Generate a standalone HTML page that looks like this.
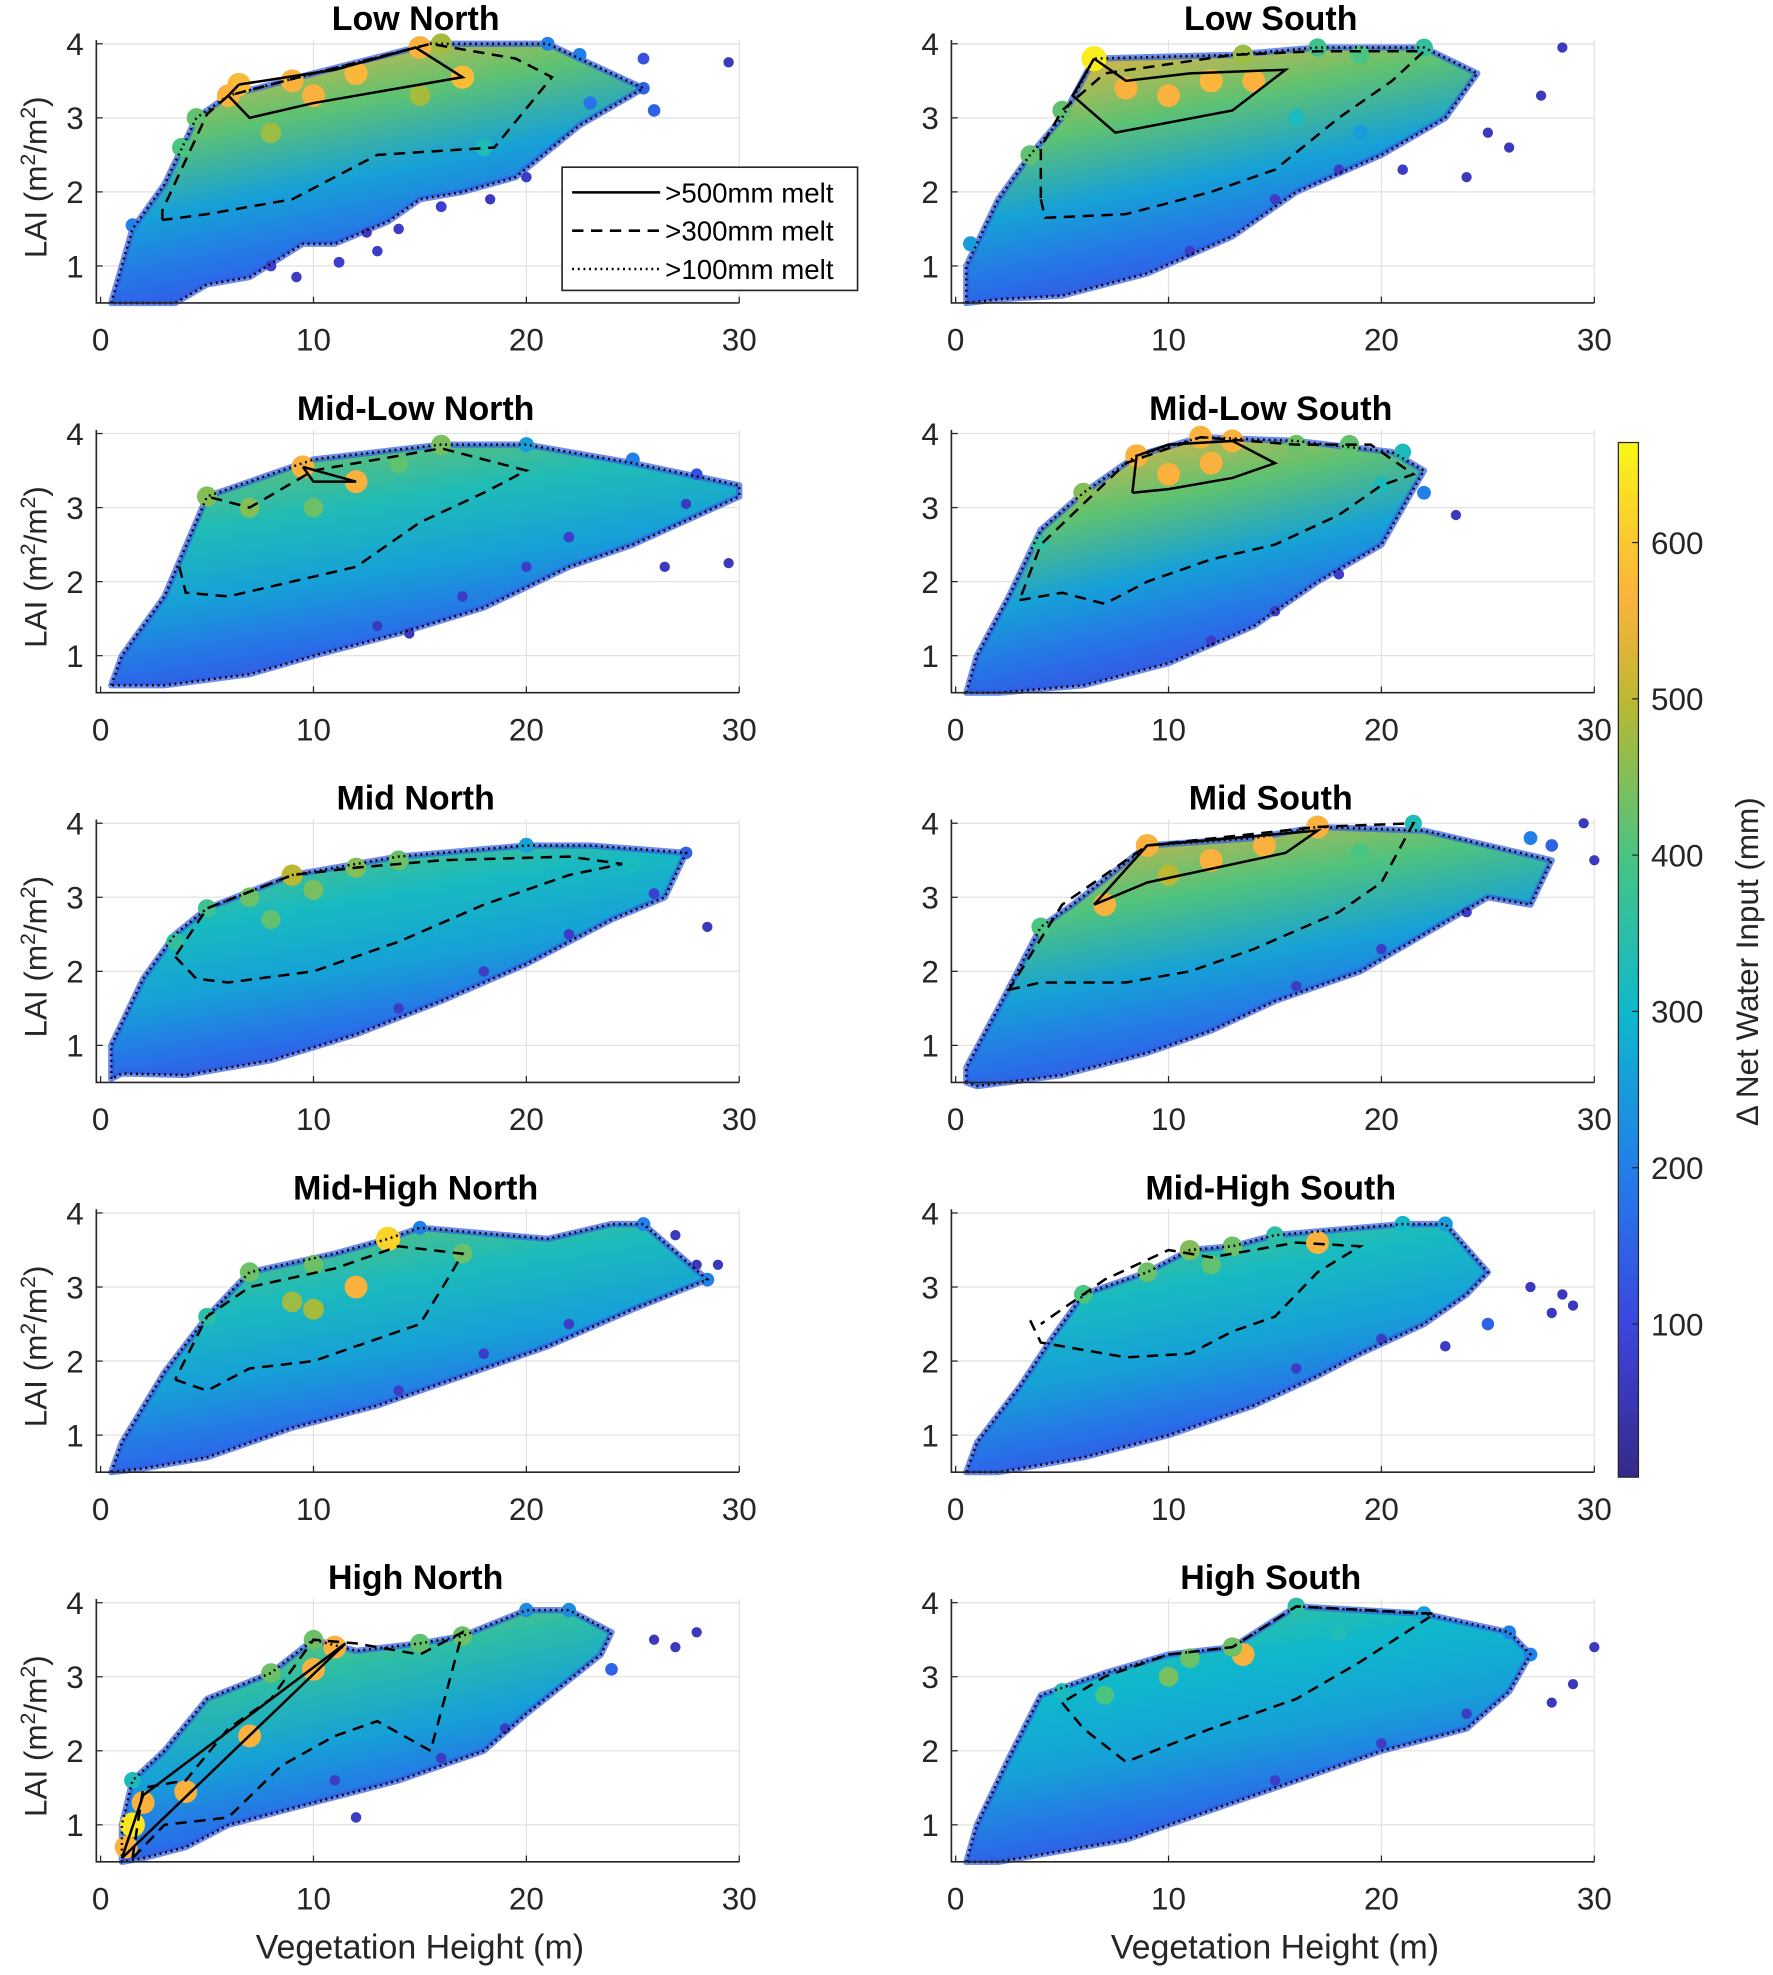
<!DOCTYPE html>
<html><head><meta charset="utf-8"><style>
html,body{margin:0;padding:0;background:#fff;}
svg{display:block;font-family:"Liberation Sans",Arial,sans-serif;}
</style></head><body>
<svg id="fig" width="1773" height="1975" viewBox="0 0 1410 1571" preserveAspectRatio="none" xmlns="http://www.w3.org/2000/svg">
<defs id="defs"></defs>
</svg>
<script>
const panelTitles = ["Low North","Low South","Mid-Low North","Mid-Low South","Mid North","Mid South","Mid-High North","Mid-High South","High North","High South"];
const topMelt = [560,560,440,560,420,540,430,420,470,400];
const xTicks = [0,10,20,30];
const yTicks = [1,2,3,4];
const cbTicks = [100,200,300,400,500,600];
const cbRange = [2,664];

const hull100 = [
 [[0.5,0.5],[1.5,1.5],[3,2.1],[4.5,3.0],[6,3.3],[10,3.6],[15.5,4.0],[21,4.0],[25.5,3.4],[22.5,2.9],[19.5,2.2],[17,2.0],[15,1.9],[13.5,1.6],[11,1.3],[9.5,1.3],[7,0.85],[5,0.75],[3.5,0.5]],
 [[0.5,0.5],[0.5,1.0],[2,1.9],[3.5,2.5],[5,3.0],[6.5,3.8],[13,3.85],[17,3.95],[22,3.95],[24.5,3.6],[23,3.0],[20,2.5],[16,2.0],[13,1.4],[9,0.9],[5,0.6],[2,0.55]],
 [[0.5,0.6],[1,1.0],[3,1.8],[5,3.15],[10,3.65],[16,3.85],[20,3.85],[25,3.6],[30,3.3],[30,3.15],[25,2.5],[22,2.2],[18,1.65],[14,1.3],[10,1.0],[7,0.75],[3,0.6]],
 [[0.5,0.5],[1,1.0],[2.5,1.8],[4,2.7],[6,3.2],[8.5,3.7],[11.5,3.95],[16,3.9],[20.5,3.75],[22,3.5],[21,3.0],[20,2.5],[17,2.0],[14,1.4],[10,0.9],[6,0.6],[2,0.5]],
 [[0.5,0.55],[0.5,1.0],[2,1.9],[3.5,2.5],[5,2.85],[9,3.3],[14,3.55],[20,3.7],[23,3.7],[27.5,3.6],[26.5,3.0],[24,2.7],[20,2.1],[16,1.6],[12,1.15],[8,0.8],[4,0.6],[1,0.62]],
 [[0.5,0.5],[0.5,0.7],[2,1.5],[4,2.6],[5.5,2.9],[9,3.7],[14,3.8],[17,3.95],[22,3.9],[28,3.5],[27,2.9],[25,3.0],[22,2.5],[19,2.0],[15,1.6],[12,1.2],[9,0.9],[5,0.6],[1,0.45]],
 [[0.5,0.5],[1,0.9],[3,1.85],[5,2.6],[7,3.2],[11,3.45],[13.5,3.65],[15,3.8],[21,3.65],[24,3.85],[25.5,3.85],[28.5,3.1],[25,2.7],[21,2.2],[17,1.8],[13,1.4],[9,1.1],[5,0.7],[2,0.55]],
 [[0.5,0.5],[1,0.9],[3,1.65],[4.5,2.3],[6,2.9],[9,3.2],[11,3.5],[13,3.55],[15,3.7],[19,3.8],[21,3.85],[23,3.85],[25,3.2],[24,2.9],[22,2.5],[19,2.1],[17,1.8],[14,1.4],[10,1.0],[6,0.7],[2,0.5]],
 [[1,0.5],[1,1.0],[1.5,1.6],[3,2.0],[5,2.7],[8,3.05],[10,3.5],[12,3.35],[15,3.45],[17,3.55],[20,3.9],[22,3.9],[24,3.6],[23.5,3.3],[20,2.5],[18,2.0],[14,1.6],[10,1.3],[6,1.0],[4,0.7],[2,0.55]],
 [[0.5,0.5],[1,1.0],[2.5,1.9],[4,2.75],[7,3.05],[10,3.3],[13,3.4],[16,3.95],[22,3.85],[26,3.6],[27,3.3],[26,2.8],[24,2.3],[20,2.0],[16,1.6],[12,1.2],[8,0.8],[4,0.6],[2,0.5]]
];
const hull300 = [
 [[2.9,1.62],[2.9,1.75],[5,3.05],[6,3.3],[10,3.6],[15.5,4.0],[19.5,3.8],[21.2,3.55],[18.5,2.6],[13,2.5],[9,1.9],[5,1.7],[2.9,1.62]],
 [[4,1.9],[4.2,1.65],[8,1.7],[12,2.0],[15,2.3],[18,3.0],[20.5,3.5],[22,3.9],[17,3.9],[13,3.85],[7,3.6],[5,3.1],[4,2.6],[4,1.9]],
 [[3.7,2.2],[4,1.85],[6,1.8],[9,2.0],[12,2.2],[15,2.8],[18,3.2],[20,3.5],[16,3.8],[10,3.5],[7,3.0],[5,3.15]],
 [[3,1.75],[5,1.85],[7,1.7],[9,2.0],[12,2.3],[15,2.5],[18,2.9],[20,3.3],[21.5,3.45],[19.5,3.85],[16,3.85],[11.5,3.95],[8,3.6],[4,2.5],[3,1.75]],
 [[3.5,2.2],[4.5,1.9],[6,1.85],[10,2.0],[14,2.4],[18,2.9],[22,3.3],[24.5,3.45],[22,3.55],[16,3.5],[12,3.4],[9,3.3],[5,2.85],[3.5,2.2]],
 [[2.5,1.75],[4,1.85],[8,1.85],[11,2.0],[14,2.3],[18,2.8],[20,3.2],[21.5,4.0],[17,3.95],[9,3.7],[5,2.9],[2.5,1.75]],
 [[3.5,1.75],[5,1.6],[7,1.9],[10,2.0],[13,2.3],[15,2.5],[16.5,3.2],[17,3.45],[14,3.55],[11,3.25],[7,3.0],[5,2.6],[3.5,1.75]],
 [[3.5,2.55],[4,2.25],[8,2.05],[11,2.1],[13,2.4],[15,2.6],[17,3.2],[19,3.55],[16,3.6],[12,3.4],[10,3.5],[7,3.1],[4,2.5]],
 [[1.5,0.55],[2,1.5],[4,1.6],[6,2.3],[8,2.7],[10,3.5],[12,3.45],[15,3.3],[17,3.6],[15.5,2.0],[13,2.4],[11,2.2],[8.5,1.8],[6,1.1],[3,1.0],[1.5,0.55]],
 [[5,2.65],[6,2.3],[8,1.85],[12,2.3],[16,2.7],[19,3.2],[22.5,3.85],[16,3.95],[13,3.4],[10,3.3],[7,3.0],[5,2.65]]
];
const hull500 = [
 [[6.5,3.45],[11,3.65],[14.8,3.95],[17,3.55],[14,3.4],[10,3.2],[7,3.0],[6,3.3],[6.5,3.45]],
 [[6.5,3.8],[8,3.5],[11,3.6],[15.5,3.65],[13,3.1],[7.5,2.8],[5.5,3.3],[6.5,3.8]],
 [[9.5,3.55],[10,3.35],[12,3.35],[9.5,3.55]],
 [[8.3,3.2],[8.5,3.7],[10,3.85],[13,3.9],[15,3.6],[13,3.4],[10,3.25],[8.3,3.2]],
 [],
 [[6.5,2.9],[9,3.7],[17,3.9],[15.5,3.6],[9,3.2],[6.5,2.9]],
 [],
 [],
 [[1,0.55],[2,1.4],[11.5,3.45],[1,0.55]],
 []
];
const pts = [
 [[29.5,3.75,60],[25.5,3.8,120],[26,3.1,150],[25.5,3.4,150],[22.5,3.85,200],[21,4.0,200],[23,3.2,180],[16,4.0,480],[15,3.95,560],[17,3.55,580],[6.5,3.45,580],[6,3.3,560],[4.5,3.0,420],[3.8,2.6,400],[12,3.6,570],[9,3.5,560],[10,3.3,560],[1.5,1.55,200],[9.2,0.85,70],[11.2,1.05,80],[12.5,1.45,60],[18.3,1.9,60],[20,2.2,70],[15,3.3,480],[8,2.8,470],[18,2.6,330],[14,1.5,70],[16,1.8,80],[13,1.2,70],[8,1.0,80]],
 [[28.5,3.95,60],[27.5,3.3,60],[25,2.8,60],[26,2.6,60],[24,2.2,60],[21,2.3,70],[6.5,3.8,650],[13.5,3.85,470],[17,3.95,380],[19,3.85,400],[22,3.95,360],[10,3.3,560],[12,3.5,570],[8,3.4,560],[14,3.5,560],[5,3.1,420],[0.7,1.3,250],[3.5,2.5,420],[16,3.0,320],[19,2.8,250],[15,1.9,70],[18,2.3,70],[11,1.2,70]],
 [[29.5,2.25,60],[26.5,2.2,60],[27.5,3.05,60],[28,3.45,120],[25,3.65,200],[22,2.6,80],[5,3.15,450],[9.5,3.55,560],[12,3.35,560],[16,3.85,440],[20,3.85,250],[14,3.6,420],[7,3.0,450],[10,3.0,430],[14.5,1.3,60],[13,1.4,60],[17,1.8,70],[20,2.2,70]],
 [[23.5,2.9,60],[8.5,3.7,560],[11.5,3.95,560],[13,3.9,560],[16,3.85,430],[18.5,3.85,420],[21,3.75,320],[10,3.45,560],[12,3.6,560],[6,3.2,450],[4,2.5,360],[20,3.3,320],[22,3.2,200],[15,1.6,70],[18,2.1,70],[12,1.2,70]],
 [[28.5,2.6,60],[26,3.05,80],[27.5,3.6,150],[9,3.3,500],[12,3.4,450],[14,3.5,430],[20,3.7,260],[25,3.45,320],[5,2.85,380],[3.5,2.4,360],[7,3.0,430],[10,3.1,440],[8,2.7,420],[22,2.5,70],[18,2.0,70],[14,1.5,70]],
 [[30,3.5,60],[29.5,4.0,60],[28,3.7,150],[27,3.8,200],[17,3.95,560],[9,3.7,560],[12,3.5,560],[14.5,3.7,560],[7,2.9,560],[4,2.6,400],[21.5,4.0,330],[19,3.6,400],[10,3.3,500],[24,2.8,70],[20,2.3,70],[16,1.8,70]],
 [[27,3.7,60],[28,3.3,60],[29,3.3,60],[28.5,3.1,200],[25.5,3.85,200],[15,3.8,200],[13.5,3.65,620],[12,3.0,560],[7,3.2,430],[10,3.3,430],[17,3.45,430],[5,2.6,350],[10,2.7,480],[9,2.8,470],[22,2.5,70],[18,2.1,70],[14,1.6,70]],
 [[28,2.65,60],[29,2.75,60],[27,3.0,60],[28.5,2.9,60],[23,2.2,70],[25,2.5,150],[15,3.7,350],[11,3.5,450],[17,3.6,560],[21,3.85,300],[23,3.85,250],[9,3.2,430],[6,2.9,400],[13,3.55,430],[12,3.3,420],[20,2.3,70],[16,1.9,70]],
 [[28,3.6,60],[27,3.4,60],[26,3.5,60],[24,3.1,150],[22,3.9,220],[20,3.9,220],[10,3.5,430],[11,3.4,560],[10,3.1,560],[7,2.2,560],[4,1.45,560],[1.5,1.0,640],[2,1.3,560],[1.2,0.7,560],[8,3.05,430],[17,3.55,430],[15,3.45,420],[12,1.1,70],[11,1.6,70],[1.5,1.6,320],[19,2.3,70],[16,1.9,70]],
 [[30,3.4,60],[29,2.9,60],[28,2.65,60],[27,3.3,200],[26,3.6,200],[16,3.95,350],[13.5,3.3,560],[13,3.4,430],[11,3.25,430],[10,3.0,440],[7,2.75,400],[5,2.8,320],[18,3.6,330],[22,3.85,250],[24,2.5,70],[20,2.1,70],[15,1.6,70]]
];

const NS="http://www.w3.org/2000/svg";
const svg=document.getElementById('fig');
const defs=document.getElementById('defs');
const PX=16.93, PY=58.9;
const parStops=[[0,[53,42,135]],[0.14,[62,67,220]],[0.28,[36,120,236]],[0.45,[15,184,204]],[0.6,[72,196,130]],[0.74,[180,185,50]],[0.84,[250,176,62]],[0.92,[250,205,45]],[1,[248,248,22]]];
function parula(v){let t=(v-cbRange[0])/(cbRange[1]-cbRange[0]);t=Math.max(0,Math.min(1,t));
 for(let i=1;i<parStops.length;i++){if(t<=parStops[i][0]){const a=parStops[i-1],b=parStops[i];const f=(t-a[0])/(b[0]-a[0]);
 return 'rgb('+a[1].map((c,k)=>Math.round(c+(b[1][k]-c)*f)).join(',')+')';}}return 'rgb(248,248,22)';}
function mk(tag,attrs,parent){const e=document.createElementNS(NS,tag);for(const k in attrs)e.setAttribute(k,attrs[k]);(parent||svg).appendChild(e);return e;}

for(let p=0;p<10;p++){
 const col=p%2,row=Math.floor(p/2);
 const x0=(col===0?80:760);
 const base=241+row*310;
 const sx=v=>x0+v*PX;
 const sy=v=>base-(v-0.5)*PY;
 const g=mk('g',{});
 
 
 const left=sx(-0.2),right=sx(30),top=sy(4.05);
 xTicks.forEach(t=>{if(t>0){const l=mk('line',{x1:sx(t),x2:sx(t),y1:top,y2:base,stroke:'#e2e2e2','stroke-width':1},g);}});
 yTicks.forEach(t=>{const l=mk('line',{x1:left,x2:right,y1:sy(t),y2:sy(t),stroke:'#e2e2e2','stroke-width':1},g);});
 const gid='gr'+p;
 const lg=mk('linearGradient',{id:gid,x1:'0.15',y1:'0',x2:'0.55',y2:'1'},defs);
 [[0,parula(topMelt[p])],[0.3,parula(topMelt[p]*0.75)],[0.55,parula(260)],[0.78,parula(170)],[1,parula(90)]].forEach(s=>mk('stop',{offset:s[0],'stop-color':s[1]},lg));
 const hp=hull100[p].map(q=>sx(q[0])+','+sy(q[1])).join(' ');
 const cloud=mk('polygon',{points:hp,fill:'url(#'+gid+')',stroke:parula(140),'stroke-width':5,'stroke-opacity':0.7,'stroke-linejoin':'round'},g);
 
 
 pts[p].forEach(q=>{const c=mk('circle',{cx:sx(q[0]),cy:sy(q[1]),r:3.5+q[2]/100,fill:parula(q[2])},g);
  
  });
 const dl=mk('polygon',{points:hp,fill:'none',stroke:'#000','stroke-width':2,'stroke-dasharray':'1.5,3'},g);
 
 
 const d3=mk('polyline',{points:hull300[p].map(q=>sx(q[0])+','+sy(q[1])).join(' '),fill:'none',stroke:'#000','stroke-width':2,'stroke-dasharray':'9,6'},g);
 
 
 if(hull500[p].length){const d5=mk('polyline',{points:hull500[p].map(q=>sx(q[0])+','+sy(q[1])).join(' '),fill:'none',stroke:'#000','stroke-width':2},g);
  
  }
 const ax=mk('path',{d:`M${left},${top} L${left},${base} L${right},${base}`,fill:'none',stroke:'#262626','stroke-width':1.3},g);
 
 
 xTicks.forEach(t=>{mk('line',{x1:sx(t),x2:sx(t),y1:base,y2:base-5,stroke:'#262626'},g);
  const tx=mk('text',{x:sx(t),y:base+38,'text-anchor':'middle','font-size':25,fill:'#262626'},g);tx.textContent=t;
  
  });
 yTicks.forEach(t=>{mk('line',{x1:left,x2:left+5,y1:sy(t),y2:sy(t),stroke:'#262626'},g);
  const ty=mk('text',{x:left-10,y:sy(t)+9,'text-anchor':'end','font-size':25,fill:'#262626'},g);ty.textContent=t;
  
  });
 const tt=mk('text',{x:sx(14.8),y:base-217,'text-anchor':'middle','font-size':27,'font-weight':'bold',fill:'#000'},g);tt.textContent=panelTitles[p];
 
 
 if(col===0){const yl=mk('text',{x:0,y:0,transform:`translate(37,${base-100}) rotate(-90)`,'text-anchor':'middle','font-size':25,fill:'#262626'},g);
  yl.innerHTML='LAI (m<tspan dy="-9" font-size="17">2</tspan><tspan dy="9">/m</tspan><tspan dy="-9" font-size="17">2</tspan><tspan dy="9">)</tspan>';
  
  }
 if(row===4){const xl=mk('text',{x:sx(15),y:1558,'text-anchor':'middle','font-size':27,fill:'#262626'},g);xl.textContent='Vegetation Height (m)';
  
  }
}
(function(){
 const g=mk('g',{});
 
 
 mk('rect',{x:447,y:133,width:235,height:98,fill:'#fff',stroke:'#262626','stroke-width':1.3},g);
 const labs=['>500mm melt','>300mm melt','>100mm melt'],dash=['none','9,6','1.5,3'];
 labs.forEach((l,i)=>{const y=153+i*30.5;
  mk('line',{x1:455,x2:525,y1:y,y2:y,stroke:'#000','stroke-width':2,'stroke-dasharray':dash[i]},g);
  const t=mk('text',{x:529,y:y+8,'font-size':22,fill:'#000'},g);t.textContent=l;
  
  });
})();
(function(){
 const g=mk('g',{});
 
 
 const top=352,bot=1175,x=1287,w=16;
 const cy=v=>bot-(v-cbRange[0])/(cbRange[1]-cbRange[0])*(bot-top);
 const lg=mk('linearGradient',{id:'cbg',x1:0,y1:1,x2:0,y2:0},defs);
 for(let i=0;i<=20;i++){const v=cbRange[0]+(cbRange[1]-cbRange[0])*i/20;mk('stop',{offset:i/20,'stop-color':parula(v)},lg);}
 mk('rect',{x:x,y:top,width:w,height:bot-top,fill:'url(#cbg)',stroke:'#262626','stroke-width':1},g);
 cbTicks.forEach(t=>{mk('line',{x1:x+w-5,x2:x+w,y1:cy(t),y2:cy(t),stroke:'#262626'},g);
  const tx=mk('text',{x:x+26,y:cy(t)+9,'font-size':25,fill:'#262626'},g);tx.textContent=t;
  
  });
 const lab=mk('text',{x:0,y:0,transform:'translate(1398,765) rotate(-90)','text-anchor':'middle','font-size':25,fill:'#262626'},g);
 lab.textContent='Δ Net Water Input (mm)';
 
 
})();
</script>
</body></html>
